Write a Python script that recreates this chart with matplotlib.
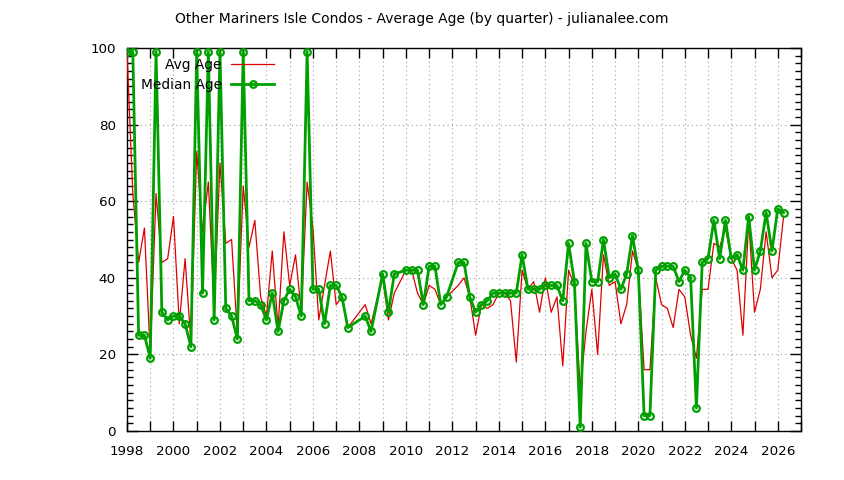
import matplotlib
matplotlib.use("Agg")
import matplotlib.pyplot as plt
from matplotlib.ticker import MultipleLocator

# quarter positions (decimal year), missing quarters left out
quarters = [
    1998.0, 1998.25, 1998.5, 1998.75, 1999.0, 1999.25, 1999.5, 1999.75,
    2000.0, 2000.25, 2000.5, 2000.75, 2001.0, 2001.25, 2001.5, 2001.75,
    2002.0, 2002.25, 2002.5, 2002.75, 2003.0, 2003.25, 2003.5, 2003.75,
    2004.0, 2004.25, 2004.5, 2004.75, 2005.0, 2005.25, 2005.5, 2005.75,
    2006.0, 2006.25, 2006.5, 2006.75, 2007.0, 2007.25, 2007.5,
    2008.25, 2008.5, 2009.0, 2009.25, 2009.5,
    2010.0, 2010.25, 2010.5, 2010.75, 2011.0, 2011.25, 2011.5, 2011.75,
    2012.25, 2012.5, 2012.75, 2013.0, 2013.25, 2013.5, 2013.75,
    2014.0, 2014.25, 2014.5, 2014.75, 2015.0, 2015.25, 2015.5, 2015.75,
    2016.0, 2016.25, 2016.5, 2016.75, 2017.0, 2017.25, 2017.5, 2017.75,
    2018.0, 2018.25, 2018.5, 2018.75, 2019.0, 2019.25, 2019.5, 2019.75,
    2020.0, 2020.25, 2020.5, 2020.75, 2021.0, 2021.25, 2021.5, 2021.75,
    2022.0, 2022.25, 2022.5, 2022.75, 2023.0, 2023.25, 2023.5, 2023.75,
    2024.0, 2024.25, 2024.5, 2024.75, 2025.0, 2025.25, 2025.5, 2025.75,
    2026.0, 2026.25,
]

avg_age = [
    99, 62, 44, 53, 20, 62, 44, 45,
    56, 28, 45, 23, 73, 52, 65, 32,
    70, 49, 50, 25, 64, 48, 55, 35,
    30, 47, 27, 52, 38, 46, 31, 65,
    53, 29, 38, 47, 33, 35, 27,
    33, 28, 40, 29, 36,
    42, 42, 36, 33, 38, 37, 33, 35,
    38, 40, 35, 25, 33, 32, 33,
    36, 36, 34, 18, 42, 37, 39, 31,
    40, 31, 35, 17, 42, 38, 11, 26,
    37, 20, 46, 38, 39, 28, 33, 47,
    42, 16, 16, 40, 33, 32, 27, 37,
    35, 25, 19, 37, 37, 49, 48, 53,
    45, 42, 25, 55, 31, 37, 52, 40,
    42, 56,
]

median_age = [
    99, 99, 25, 25, 19, 99, 31, 29,
    30, 30, 28, 22, 99, 36, 99, 29,
    99, 32, 30, 24, 99, 34, 34, 33,
    29, 36, 26, 34, 37, 35, 30, 99,
    37, 37, 28, 38, 38, 35, 27,
    30, 26, 41, 31, 41,
    42, 42, 42, 33, 43, 43, 33, 35,
    44, 44, 35, 31, 33, 34, 36,
    36, 36, 36, 36, 46, 37, 37, 37,
    38, 38, 38, 34, 49, 39, 1, 49,
    39, 39, 50, 40, 41, 37, 41, 51,
    42, 4, 4, 42, 43, 43, 43, 39,
    42, 40, 6, 44, 45, 55, 45, 55,
    45, 46, 42, 56, 42, 47, 57, 47,
    58, 57,
]

plt.rcParams["font.family"] = ["DejaVu Sans"]
plt.rcParams["font.size"] = 9.5

fig = plt.figure(figsize=(8.44, 4.8), dpi=100)
ax = fig.add_axes([127 / 844, 1 - 431 / 480, (801 - 127) / 844, (431 - 48) / 480])

ax.plot(quarters, avg_age, color="#dd0000", lw=0.9, label="Avg Age", zorder=3)
ax.plot(quarters, median_age, color="#00a000", lw=2, marker="o", ms=4.8,
        mfc="none", mec="#00a000", mew=1.6, label="Median Age", zorder=4)

ax.set_xlim(1998, 2027)
ax.set_ylim(0, 100)
ax.xaxis.set_major_locator(MultipleLocator(2))
ax.xaxis.set_minor_locator(MultipleLocator(1))
ax.yaxis.set_major_locator(MultipleLocator(20))
ax.yaxis.set_minor_locator(MultipleLocator(2))
ax.tick_params(which="both", direction="in", top=True, right=True, width=1, labelsize=9.7)
ax.tick_params(axis="x", which="both", length=7, pad=10)
ax.tick_params(axis="y", which="major", length=8, pad=8)
ax.tick_params(axis="y", which="minor", length=4)

ax.grid(True, axis="x", which="both", color="#a0a0a0", ls=(0, (1, 3)), lw=0.8)
ax.grid(True, axis="y", which="major", color="#a0a0a0", ls=(0, (1, 3)), lw=0.8)
for s in ax.spines.values():
    s.set_linewidth(1)

fig.text(0.5, 1 - 19 / 480, "Other Mariners Isle Condos - Average Age (by quarter) - julianalee.com",
         ha="center", va="center", fontsize=10)

ax.legend(loc="upper right", bbox_to_anchor=(274 / 844, 1 - 58 / 480),
          bbox_transform=fig.transFigure, frameon=False, markerfirst=False,
          numpoints=1, handlelength=3.1, handletextpad=0.7, borderpad=0,
          borderaxespad=0, labelspacing=0.4, fontsize=9.9)

fig.savefig("out.png", dpi=100)
